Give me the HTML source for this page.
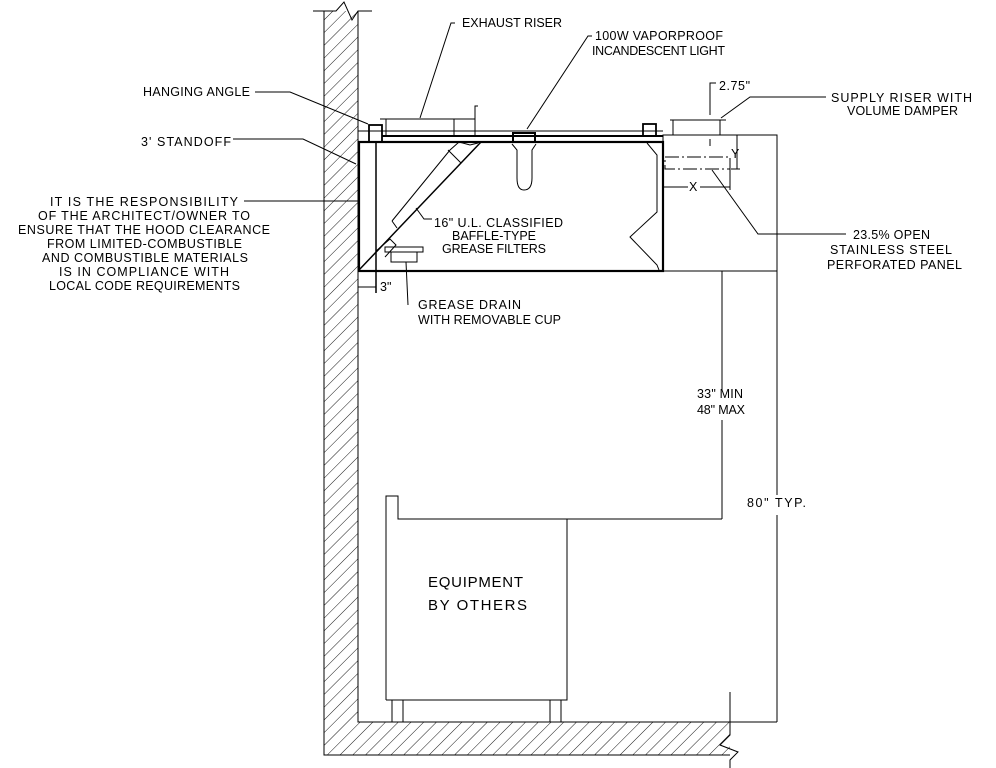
<!DOCTYPE html>
<html><head><meta charset="utf-8"><style>
html,body{margin:0;padding:0;background:#fff}
svg{display:block}
text{font-family:"Liberation Sans",sans-serif;font-size:12.5px;fill:#000}
</style></head><body>
<svg width="996" height="768" viewBox="0 0 996 768" xmlns="http://www.w3.org/2000/svg">
<defs>
<pattern id="h" width="9" height="9" patternUnits="userSpaceOnUse" patternTransform="rotate(45)">
<line x1="0" y1="0" x2="0" y2="9" stroke="#000" stroke-width="0.9"/>
</pattern>
</defs>
<g fill="none" stroke="#000" stroke-width="1">
<path d="M324,11 H358 V722 H730 V755 H324 Z" fill="url(#h)" stroke="none"/>
<path d="M324,11 V755 H730"/>
<path d="M358,11 V722 H777"/>
<path d="M313,11 H336 L344,2 L352,20 L358,11 H372"/>
<path d="M730,692 V735 L720,745 L738,752 L730,760 V768"/>
<path d="M358,131 H663" />
<path d="M382,136 H663" stroke-width="2"/>
<rect x="359" y="142" width="304" height="129" stroke-width="2.2"/>
<line x1="376" y1="142" x2="376" y2="293" stroke-width="1.5"/>
<rect x="369" y="125" width="13" height="17" stroke-width="1.8"/>
<rect x="643" y="124" width="13" height="12" stroke-width="1.8"/>
<path d="M380,119 H475 M386,119 V136 M454,119 V136 M475,136 V106 H478"/>
<rect x="513" y="133" width="22" height="9" stroke-width="2"/>
<path d="M512,144 L517,150 V178 Q517,190 524,190 Q532,190 532,178 V150 L536,144"/>
<path d="M359,270 L481,142" stroke-width="1.5"/>
<path d="M392,221 L450,150 L459,142 L470,145 L478,143"/>
<path d="M392,221 L397,228 M448,150 L461,163"/>
<path d="M376,251 L390,239 L396,245 L385,257"/>
<path d="M647,143 L657,155 V212 L630,237 L657,265 L659,270"/>
<rect x="385" y="247" width="38" height="5"/>
<rect x="391" y="252" width="26" height="10"/>
<path d="M406,262 L408,305"/>
<rect x="663" y="135" width="114" height="136"/>
<path d="M670,120 H726 M673,120 V135 M720,120 V135"/>
<rect x="665" y="157" width="65" height="12" stroke-dasharray="14,3,2,3"/>
<path d="M737,135 V169 M731,135 H740 M731,169 H740"/>
<path d="M663,187 H688 M700,187 H730 M730,169 V190"/>
<path d="M710,115 V83 H716 M710,139 V146"/>
<path d="M826,97 H750 L721,118"/>
<path d="M846,234 H758 L712,170"/>
<path d="M255,92 H290 L368,124"/>
<path d="M233,139 H303 L356,164"/>
<path d="M244,201 H358"/>
<path d="M455,23 H451 L420,118"/>
<path d="M592,36 H588 L527,129"/>
<path d="M432,219 H424 L416,208"/>
<path d="M358,287 H376"/>
<path d="M722,271 V390 M722,420 V519"/>
<path d="M777,271 V495 M777,515 V722"/>
<path d="M386,700 V496 H398 V519 H722"/>
<path d="M386,700 H567 V519"/>
<path d="M392,700 V722 M403,700 V722 M550,700 V722 M561,700 V722"/>
</g>
<text x="462" y="27" textLength="100">EXHAUST RISER</text>
<text x="595" y="40" textLength="128">100W VAPORPROOF</text>
<text x="592" y="55" textLength="133">INCANDESCENT LIGHT</text>
<text x="719" y="90" textLength="31">2.75"</text>
<text x="831" y="102" textLength="141">SUPPLY RISER WITH</text>
<text x="847" y="115" textLength="111">VOLUME DAMPER</text>
<text x="143" y="96" textLength="107">HANGING ANGLE</text>
<text x="141" y="146" textLength="90">3' STANDOFF</text>
<text x="50" y="206" textLength="188">IT IS THE RESPONSIBILITY</text>
<text x="38" y="220" textLength="212">OF THE ARCHITECT/OWNER TO</text>
<text x="18" y="234" textLength="252">ENSURE THAT THE HOOD CLEARANCE</text>
<text x="47" y="248" textLength="195">FROM LIMITED-COMBUSTIBLE</text>
<text x="42" y="262" textLength="206">AND COMBUSTIBLE MATERIALS</text>
<text x="59" y="276" textLength="170">IS IN COMPLIANCE WITH</text>
<text x="49" y="290" textLength="191">LOCAL CODE REQUIREMENTS</text>
<text x="434" y="227" textLength="129">16" U.L. CLASSIFIED</text>
<text x="452" y="240" textLength="84">BAFFLE-TYPE</text>
<text x="442" y="253" textLength="104">GREASE FILTERS</text>
<text x="853" y="239" textLength="77">23.5% OPEN</text>
<text x="830" y="254" textLength="122">STAINLESS STEEL</text>
<text x="827" y="269" textLength="135">PERFORATED PANEL</text>
<text x="697" y="398" textLength="46">33" MIN</text>
<text x="697" y="414" textLength="48">48" MAX</text>
<text x="380" y="291">3"</text>
<text x="418" y="309" textLength="103">GREASE DRAIN</text>
<text x="418" y="324" textLength="143">WITH REMOVABLE CUP</text>
<text x="747" y="507" textLength="59">80" TYP.</text>
<text x="689" y="191">X</text>
<text x="731" y="158">Y</text>
<text x="428" y="587" style="font-size:15px" textLength="95">EQUIPMENT</text>
<text x="428" y="610" style="font-size:15px" textLength="99">BY OTHERS</text>
</svg>
</body></html>
